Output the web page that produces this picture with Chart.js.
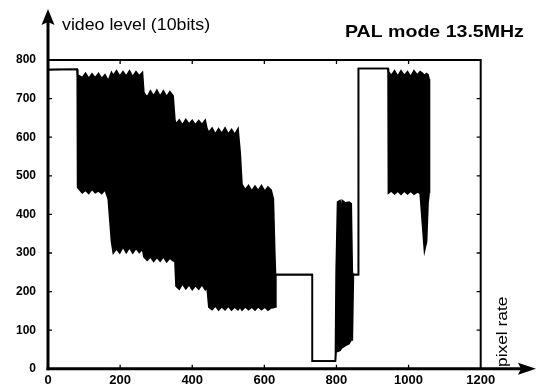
<!DOCTYPE html>
<html>
<head>
<meta charset="utf-8">
<script src="https://cdn.jsdelivr.net/npm/chart.js@4.4.1/dist/chart.umd.min.js"></script>
<style>
  html, body { margin: 0; padding: 0; background: #fff; }
</style>
</head>
<body>
<canvas id="chart" width="540" height="388"></canvas>
<script>
// envelope of the scope trace: pixel index, top and bottom of the signal (10-bit level)
const sampleX = [
  0, 81, 82, 95, 104, 113, 122, 131, 140, 149, 158, 167, 176, 181, 190, 199, 208, 217, 226, 235,
  244, 253, 262, 266, 275, 284, 293, 302, 311, 320, 329, 338, 347, 352, 355, 364, 373, 382, 391, 400,
  409, 418, 427, 436, 441, 446, 455, 464, 473, 482, 491, 500, 509, 518, 527, 533, 538, 547, 556, 565,
  574, 583, 592, 601, 610, 619, 625, 629, 631, 632, 733, 733, 797, 799, 803, 810, 813, 816, 825, 835,
  841, 844, 847, 861, 861, 943, 944, 952, 961, 970, 979, 988, 997, 1006, 1015, 1024, 1032, 1038, 1044, 1050,
  1054, 1057, 1058
];
const levelHigh = [
  775, 776, 762, 754, 766, 752, 764, 754, 765, 752, 762, 746, 768, 760, 772, 758, 770, 758, 772, 757,
  770, 759, 768, 715, 704, 720, 707, 722, 706, 720, 705, 718, 707, 645, 634, 645, 632, 646, 634, 644,
  632, 643, 633, 644, 622, 612, 624, 608, 622, 610, 624, 608, 620, 607, 622, 560, 478, 464, 475, 461,
  473, 462, 475, 460, 471, 463, 440, 300, 244, 244, 244, 20, 20, 250, 432, 436, 405, 436, 430, 432,
  428, 250, 244, 244, 778, 778, 770, 760, 772, 758, 772, 760, 770, 757, 772, 761, 770, 766, 760, 765,
  762, 750, 455
];
const levelLow = [
  775, 776, 470, 456, 463, 454, 465, 456, 461, 454, 464, 440, 330, 300, 311, 300, 316, 301, 314, 300,
  312, 301, 310, 290, 281, 290, 278, 289, 279, 290, 277, 287, 280, 278, 214, 206, 220, 207, 218, 205,
  216, 206, 218, 205, 212, 160, 153, 163, 152, 161, 153, 162, 152, 160, 153, 160, 152, 161, 153, 160,
  152, 161, 153, 160, 152, 158, 158, 160, 160, 244, 244, 20, 20, 45, 45, 48, 52, 55, 60, 65,
  75, 75, 244, 244, 778, 778, 455, 461, 453, 460, 452, 461, 453, 460, 452, 458, 455, 380, 305, 330,
  430, 455, 455
];
const xTicks = [0, 200, 400, 600, 800, 1000, 1200];
const yTicks = [0, 100, 200, 300, 400, 500, 600, 700, 800];

const highPoints = sampleX.map((x, i) => ({ x: x, y: levelHigh[i] }));
const lowPoints = sampleX.map((x, i) => ({ x: x, y: levelLow[i] }));

function stretchText(ctx, text, x, y, sx, font) {
  ctx.save();
  ctx.font = font;
  ctx.translate(x, y);
  ctx.scale(sx, 1);
  ctx.fillText(text, 0, 0);
  ctx.restore();
}

// axes with arrows, framed box, inward ticks and the captions
const framePlugin = {
  id: 'frame',
  afterDraw(chart) {
    const ctx = chart.ctx;
    const xs = chart.scales.x, ys = chart.scales.y;
    const left = xs.getPixelForValue(0), right = xs.getPixelForValue(1200);
    const top = ys.getPixelForValue(800), bottom = ys.getPixelForValue(0);
    ctx.save();
    ctx.strokeStyle = '#000';
    ctx.fillStyle = '#000';

    ctx.lineWidth = 2;
    ctx.beginPath();
    ctx.moveTo(left, top);
    ctx.lineTo(right, top);
    ctx.lineTo(right, bottom);
    ctx.stroke();

    ctx.lineWidth = 3;
    ctx.beginPath();
    ctx.moveTo(left, bottom + 1.5);
    ctx.lineTo(left, 20);
    ctx.stroke();
    ctx.beginPath();
    ctx.moveTo(left - 1.5, bottom);
    ctx.lineTo(522, bottom);
    ctx.stroke();

    ctx.beginPath();
    ctx.moveTo(left, 9);
    ctx.lineTo(left - 6.5, 25);
    ctx.lineTo(left, 22);
    ctx.lineTo(left + 6.5, 25);
    ctx.closePath();
    ctx.fill();
    ctx.beginPath();
    ctx.moveTo(536, bottom);
    ctx.lineTo(518, bottom - 6);
    ctx.lineTo(521, bottom);
    ctx.lineTo(518, bottom + 6);
    ctx.closePath();
    ctx.fill();

    ctx.lineWidth = 1.3;
    ctx.beginPath();
    yTicks.slice(1, -1).forEach(v => {
      const py = ys.getPixelForValue(v);
      ctx.moveTo(left, py); ctx.lineTo(left + 4, py);
      ctx.moveTo(right, py); ctx.lineTo(right - 4, py);
    });
    xTicks.slice(1, -1).forEach(v => {
      const px = xs.getPixelForValue(v);
      ctx.moveTo(px, top); ctx.lineTo(px, top + 4);
      ctx.moveTo(px, bottom); ctx.lineTo(px, bottom - 4);
    });
    ctx.stroke();

    ctx.textAlign = 'left';
    ctx.textBaseline = 'alphabetic';
    stretchText(ctx, 'video level (10bits)', 62, 30, 1.11, '16px "Liberation Sans"');
    stretchText(ctx, 'PAL mode 13.5MHz', 345, 37, 1.15, 'bold 17px "Liberation Sans"');

    ctx.save();
    ctx.font = '14px "Liberation Sans"';
    ctx.translate(507, 367);
    ctx.rotate(-Math.PI / 2);
    ctx.scale(1.24, 1);
    ctx.fillText('pixel rate', 0, 0);
    ctx.restore();

    ctx.restore();
  }
};

new Chart(document.getElementById('chart'), {
  type: 'scatter',
  data: {
    datasets: [{
      data: highPoints,
      showLine: true,
      borderColor: '#000',
      borderWidth: 1.6,
      pointRadius: 0,
      tension: 0,
      fill: false
    }, {
      data: lowPoints,
      showLine: true,
      borderColor: '#000',
      backgroundColor: '#000',
      borderWidth: 1.6,
      pointRadius: 0,
      tension: 0,
      fill: '-1'
    }]
  },
  options: {
    responsive: false,
    animation: false,
    devicePixelRatio: 1,
    layout: { padding: { top: 60, right: 59.3, bottom: 0, left: 0 } },
    plugins: {
      legend: { display: false },
      tooltip: { enabled: false }
    },
    scales: {
      x: {
        type: 'linear',
        min: 0,
        max: 1200,
        afterBuildTicks: s => { s.ticks = xTicks.map(v => ({ value: v })); },
        afterFit: s => { s.height = 15.3; },
        grid: { display: false, drawTicks: false },
        border: { display: false },
        ticks: {
          color: '#000',
          padding: 4,
          maxRotation: 0,
          autoSkip: false,
          callback: v => String(v),
          font: { size: 13, weight: 'bold', family: 'Liberation Sans' }
        }
      },
      y: {
        min: 0,
        max: 800,
        afterBuildTicks: s => { s.ticks = yTicks.map(v => ({ value: v })); },
        afterFit: s => { s.width = 48; },
        grid: { display: false, drawTicks: false },
        border: { display: false },
        ticks: {
          color: '#000',
          padding: 12,
          callback: v => String(v),
          font: { size: 12, weight: 'bold', family: 'Liberation Sans' }
        }
      }
    }
  },
  plugins: [framePlugin]
});
</script>
</body>
</html>
